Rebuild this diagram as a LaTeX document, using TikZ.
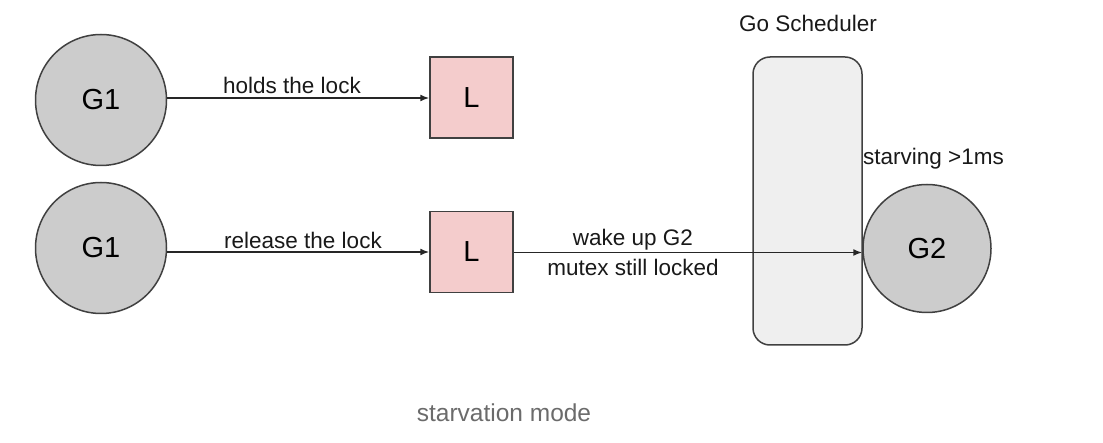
\documentclass[tikz,border=0pt]{standalone}
\usepackage{fontspec}
\setmainfont{Liberation Sans}
\usetikzlibrary{arrows.meta}
\definecolor{gfill}{HTML}{CCCCCC}
\definecolor{lfill}{HTML}{F4CCCC}
\definecolor{sfill}{HTML}{EFEFEF}
\definecolor{edge}{HTML}{404040}
\definecolor{capgray}{HTML}{6B6B6B}
\tikzset{
  gor/.style={circle, draw=edge, line width=1.5pt, fill=gfill, minimum size=131pt, inner sep=0pt, font=\fontsize{29}{34}\selectfont},
  lockbox/.style={rectangle, draw=edge, line width=1.5pt, fill=lfill, minimum width=83pt, minimum height=81pt, inner sep=0pt, font=\fontsize{29}{34}\selectfont},
  lbl/.style={font=\fontsize{22.5}{26}\selectfont, inner sep=0pt, text=black!90},
  arr/.style={line width=1.5pt, draw=black!85, -{Latex[length=9pt,width=7pt]}}
}
\begin{document}
\begin{tikzpicture}[x=1pt,y=-1pt]
\useasboundingbox (0,0) rectangle (1103,443);
% scheduler
\node[draw=edge, line width=1.5pt, fill=sfill, rounded corners=17pt, minimum width=109pt, minimum height=288pt, inner sep=0pt] (sched) at (807.5,201) {};
\node[lbl] (schedlbl) at (808,23) {Go Scheduler};
% row 1
\node[gor] (g1a) at (101,100) {G1};
\node[lockbox] (la) at (471.5,97.5) {L};
\draw[arr] (g1a.east |- 0,98) -- (la.west |- 0,98);
\node[lbl] (t1) at (292,85) {holds the lock};
% row 2
\node[gor] (g1b) at (101,248) {G1};
\node[lockbox] (lb) at (471.5,252) {L};
\draw[arr] (g1b.east |- 0,252) -- (lb.west |- 0,252);
\node[lbl] (t2) at (303,240) {release the lock};
\node[gor, minimum size=128pt] (g2) at (927,248.5) {G2};
\draw[arr] (lb.east |- 0,252.5) -- (g2.west |- 0,252.5);
\node[lbl] (t3) at (633,240) {wake up G2};
\node[lbl] (t4) at (633,267) {mutex still locked};
\node[lbl, anchor=west] (t5) at (863,159) {starving >1ms};
% caption
\node[font=\fontsize{24.5}{28}\selectfont, text=capgray, inner sep=0pt] (cap) at (504,413) {starvation mode};
\end{tikzpicture}
\end{document}
